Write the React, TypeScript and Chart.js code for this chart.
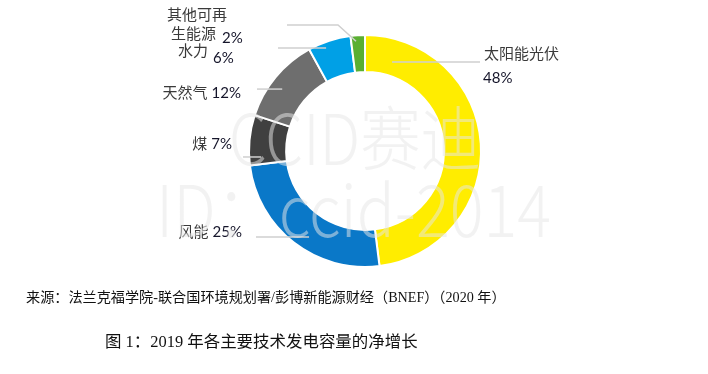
import React, { useEffect, useRef } from 'react';
import { Chart, registerables } from 'chart.js';

Chart.register(...registerables);

// ---- data ----
const categories = ['太阳能光伏', '风能', '煤', '天然气', '水力', '其他可再生能源'];
const shares = [48, 25, 7, 12, 6, 2];
const percentLabels = ['48%', '25%', '7%', '12%', '6%', '2%'];
const nameLines = [['太阳能光伏'], ['风能'], ['煤'], ['天然气'], ['水力'], ['其他可再', '生能源']];
const colors = ['#FFED00', '#0A78C8', '#404040', '#6E6E6E', '#00A0E6', '#5AAF32'];
const sourceText = '来源：法兰克福学院-联合国环境规划署/彭博新能源财经（BNEF）（2020 年）';
const titleText = '图 1：2019 年各主要技术发电容量的净增长';
const watermark1 = 'CCID赛迪';
const watermark2 = 'ID：ccid-2014';

// ---- layout (positions/styles only) ----
type Item = { kind: 'name' | 'pct'; line?: number; x: number; y: number; align: CanvasTextAlign };
type Layout = { t: number; k: number; path: [number, number | null][]; items: Item[] };
const labelLayout: Layout[] = [
  { t: 0.098, k: 0.38, path: [[480, null]], items: [
    { kind: 'name', line: 0, x: 484, y: 53, align: 'left' },
    { kind: 'pct', x: 483, y: 77, align: 'left' },
  ] },
  { t: 0.447, k: 0.64, path: [[256, null]], items: [
    { kind: 'pct', x: 242, y: 231, align: 'right' },
    { kind: 'name', line: 0, x: -1, y: 231, align: 'right' },
  ] },
  { t: 0.155, k: 0.68, path: [[243, null]], items: [
    { kind: 'pct', x: 232, y: 143, align: 'right' },
    { kind: 'name', line: 0, x: -1, y: 143, align: 'right' },
  ] },
  { t: 0.435, k: 0.66, path: [[257, null]], items: [
    { kind: 'pct', x: 241, y: 92, align: 'right' },
    { kind: 'name', line: 0, x: -1, y: 92, align: 'right' },
  ] },
  { t: 0.375, k: 0.84, path: [[278, null]], items: [
    { kind: 'name', line: 0, x: 208, y: 50, align: 'right' },
    { kind: 'pct', x: 213, y: 57, align: 'left' },
  ] },
  { t: 0.35, k: 0.84, path: [[338, 25], [287, 25]], items: [
    { kind: 'name', line: 0, x: 167, y: 14, align: 'left' },
    { kind: 'name', line: 1, x: 171, y: 33, align: 'left' },
    { kind: 'pct', x: 222, y: 37, align: 'left' },
  ] },
];

const CJK = '"Noto Sans CJK SC", sans-serif';
const PCT = 'Lato, "Open Sans", sans-serif';
const SERIF = '"Liberation Serif", "Noto Sans CJK SC", serif';

function fitText(ctx: CanvasRenderingContext2D, txt: string, x: number, y: number, base: number, weight: string, family: string, target: number) {
  ctx.font = `${weight} ${base}px ${family}`;
  const w = ctx.measureText(txt).width;
  const size = base * target / w;
  ctx.font = `${weight} ${size.toFixed(2)}px ${family}`;
  ctx.fillText(txt, x, y);
}

const labelPlugin = {
  id: 'labels',
  afterDatasetsDraw(chart: any) {
    const ctx: CanvasRenderingContext2D = chart.ctx;
    const meta = chart.getDatasetMeta(0);
    ctx.save();
    meta.data.forEach((arc: any, i: number) => {
      const p = arc.getProps(['x', 'y', 'startAngle', 'endAngle', 'innerRadius', 'outerRadius'], true);
      const L = labelLayout[i];
      const a = p.startAngle + (p.endAngle - p.startAngle) * L.t;
      const r = p.innerRadius + (p.outerRadius - p.innerRadius) * L.k;
      const ax = p.x + r * Math.cos(a);
      const ay = p.y + r * Math.sin(a);
      ctx.strokeStyle = '#cfcfcf';
      ctx.lineWidth = 1.5;
      ctx.beginPath();
      ctx.moveTo(ax, ay);
      L.path.forEach(([px, py]) => ctx.lineTo(px, py === null ? ay : py));
      ctx.stroke();

      let lastLeft = 0;
      L.items.forEach((it) => {
        ctx.textBaseline = 'middle';
        ctx.textAlign = it.align;
        let x = it.x;
        if (x < 0) x = lastLeft - 4;
        if (it.kind === 'name') {
          ctx.font = `15px ${CJK}`;
          ctx.fillStyle = '#3a3a3a';
          const txt = nameLines[i][it.line || 0];
          ctx.fillText(txt, x, it.y);
        } else {
          ctx.font = `15px ${PCT}`;
          ctx.fillStyle = '#15152a';
          const txt = percentLabels[i];
          ctx.fillText(txt, x, it.y + 1);
          const w = ctx.measureText(txt).width;
          lastLeft = it.align === 'right' ? x - w : x;
        }
      });
    });
    ctx.restore();
  },
  afterDraw(chart: any) {
    const ctx: CanvasRenderingContext2D = chart.ctx;
    ctx.save();
    ctx.fillStyle = 'rgba(230,230,230,0.52)';
    ctx.textBaseline = 'alphabetic';
    ctx.textAlign = 'left';
    ctx.font = `300 70px ${CJK}`;
    ctx.fillText(watermark1, 229, 165, 252);
    ctx.font = `300 72px ${CJK}`;
    ctx.fillText(watermark2, 156, 237, 395);

    ctx.fillStyle = '#111';
    ctx.textBaseline = 'middle';
    fitText(ctx, sourceText, 26, 298, 16, 'normal', SERIF, 480);
    fitText(ctx, titleText, 105, 343, 18, 'normal', SERIF, 313);
    ctx.restore();
  },
};

export default function App() {
  const ref = useRef<HTMLCanvasElement>(null);
  useEffect(() => {
    if (!ref.current) return;
    const chart = new Chart(ref.current, {
      type: 'doughnut',
      data: {
        labels: categories,
        datasets: [{
          data: shares,
          backgroundColor: colors,
          borderColor: '#ffffff',
          borderWidth: 2,
        }],
      },
      options: {
        responsive: false,
        animation: false,
        devicePixelRatio: 1,
        cutout: '68%',
        layout: { padding: { left: 248, right: 226, top: 34, bottom: 106 } },
        plugins: { legend: { display: false }, tooltip: { enabled: false } },
      },
      plugins: [labelPlugin],
    });
    return () => chart.destroy();
  }, []);
  return (
    <canvas
      ref={ref}
      width={708}
      height={374}
      style={{ position: 'absolute', left: 0, top: 0, width: 708, height: 374, background: '#fff' }}
    />
  );
}
